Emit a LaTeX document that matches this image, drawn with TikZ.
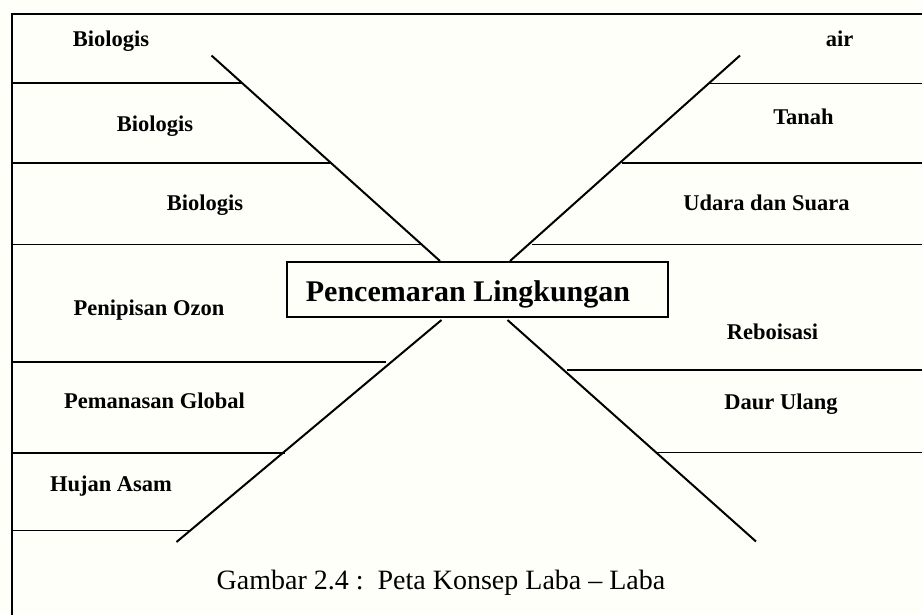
\documentclass[tikz,border=0pt]{standalone}
\usepackage{fontspec}
\setmainfont{Liberation Serif}
\begin{document}
\begin{tikzpicture}[x=1pt,y=-1pt,
  frame/.style={line width=2pt,line cap=rect},
  rule/.style={line width=1.8pt},
  spoke/.style={line width=2pt},
  lbl/.style={anchor=base,inner sep=0pt,font=\fontsize{22.5}{26}\selectfont\bfseries},
  titlebox/.style={draw,line width=2.2pt,minimum width=381pt,minimum height=55pt,inner sep=0pt}]
\useasboundingbox (0,0) rectangle (922,614);
\fill[white!97!yellow!60] (0,0) rectangle (922,614);

% outer frame (top and left edges)
\coordinate (fTL) at (12,14);
\coordinate (fTR) at (922,14);
\coordinate (fBL) at (12,614);
\draw[frame] (fTR) -- (fTL) -- (fBL);

% central concept
\node[titlebox] (title) at (477.5,289.5) {};
\node[anchor=base,inner sep=0pt,font=\fontsize{30}{34}\selectfont\bfseries] (titletext) at (468,301) {Pencemaran Lingkungan};

% spoke end points
\coordinate (ulA) at (211.5,55.5);  \coordinate (ulB) at (440,261);
\coordinate (urA) at (740,55.5);    \coordinate (urB) at (510,261);
\coordinate (llA) at (441.5,320);   \coordinate (llB) at (176.5,542);
\coordinate (lrA) at (507.5,320);   \coordinate (lrB) at (756,541.5);
\draw[spoke] (ulA) -- (ulB);
\draw[spoke] (urA) -- (urB);
\draw[spoke] (llA) -- (llB);
\draw[spoke] (lrA) -- (lrB);

% left rules
\coordinate (l1) at (242,83);  \coordinate (l2) at (330,163); \coordinate (l3) at (421,244.5);
\coordinate (l4) at (386,362); \coordinate (l5) at (285,453); \coordinate (l6) at (190,530.5);
\foreach \c in {l1,l2,l3,l4,l5,l6}{
  \draw[rule] (fTL |- \c) -- (\c);
}
% right rules
\coordinate (r1) at (709,83.5); \coordinate (r2) at (622,163); \coordinate (r3) at (532,244.5);
\coordinate (r4) at (567,370);  \coordinate (r5) at (656,452.5);
\foreach \c in {r1,r2,r3,r4,r5}{
  \draw[rule] (\c) -- (fTR |- \c);
}

% labels
\node[lbl] (b1) at (111,46) {Biologis};
\node[lbl] (b2) at (155,131) {Biologis};
\node[lbl] (b3) at (205,210) {Biologis};
\node[lbl] (oz) at (149,315) {Penipisan Ozon};
\node[lbl] (pg) at (154.5,408) {Pemanasan Global};
\node[lbl] (ha) at (111,491) {Hujan Asam};
\node[lbl] (air) at (839.5,46) {air};
\node[lbl] (tn) at (803.5,124) {Tanah};
\node[lbl] (ud) at (766.5,210) {Udara dan Suara};
\node[lbl] (rb) at (772.5,339) {Reboisasi};
\node[lbl] (du) at (781,409) {Daur Ulang};

% caption
\node[anchor=base,inner sep=0pt,font=\fontsize{28}{32}\selectfont] (cap) at (441,589) {Gambar 2.4 :\ \ Peta Konsep Laba -- Laba};
\end{tikzpicture}
\end{document}
